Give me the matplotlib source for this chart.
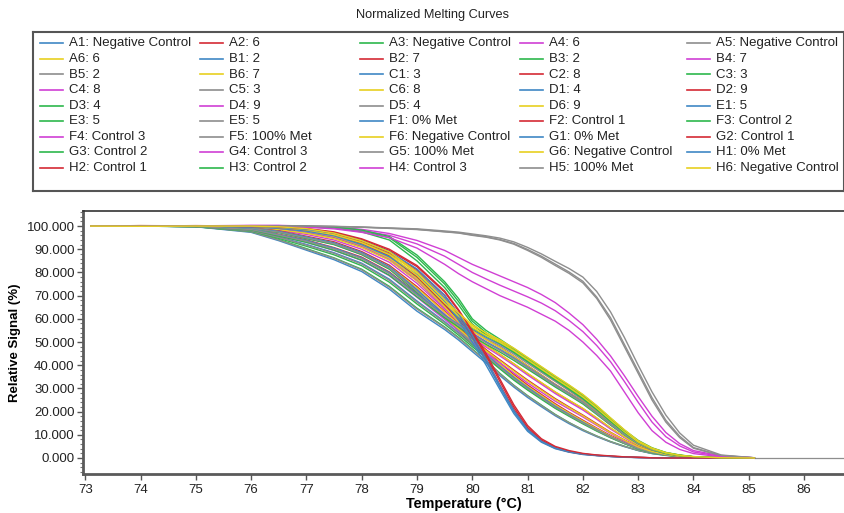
import matplotlib
matplotlib.use("Agg")
import matplotlib.pyplot as plt
from matplotlib.ticker import MultipleLocator, FormatStrFormatter

plt.rcParams['font.family'] = ['Liberation Sans', 'DejaVu Sans']

# Temperature grid (°C) shared by every well
temperature = [73.1, 74, 75, 76, 76.5, 77, 77.5, 78, 78.5, 79, 79.5, 79.75, 80, 80.25,
               80.5, 80.75, 81, 81.25, 81.5, 81.75, 82, 82.25, 82.5, 82.75, 83, 83.25,
               83.5, 83.75, 84, 84.5, 85.1]

wells = ["A1", "A2", "A3", "A4", "A5", "A6",
         "B1", "B2", "B3", "B4", "B5", "B6",
         "C1", "C2", "C3", "C4", "C5", "C6",
         "D1", "D2", "D3", "D4", "D5", "D6",
         "E1", "E3", "E5",
         "F1", "F2", "F3", "F4", "F5", "F6",
         "G1", "G2", "G3", "G4", "G5", "G6",
         "H1", "H2", "H3", "H4", "H5", "H6"]

sample_names = ["Negative Control", "6", "Negative Control", "6", "Negative Control", "6",
                "2", "7", "2", "7", "2", "7",
                "3", "8", "3", "8", "3", "8",
                "4", "9", "4", "9", "4", "9",
                "5", "5", "5",
                "0% Met", "Control 1", "Control 2", "Control 3", "100% Met", "Negative Control",
                "0% Met", "Control 1", "Control 2", "Control 3", "100% Met", "Negative Control",
                "0% Met", "Control 1", "Control 2", "Control 3", "100% Met", "Negative Control"]

# Normalized relative signal (%) per well
A1 = [100.1, 99.9, 100, 99.6, 98.9, 97.6, 95.4, 91.6, 86.4, 77.4, 65.6, 60.2, 55.4, 52, 49, 45.4, 41.4, 37.4, 33.4, 29.4, 25.4, 20.6, 15.6, 10.8, 6.5, 3.7, 2, 1.0, 0.4, 0.1, 0]
A2 = [100, 100.1, 100, 99.6, 98.7, 97.1, 94.9, 91.1, 85.7, 76.6, 65.3, 60, 55, 51.1, 47.7, 43.9, 39.8, 35.8, 31.8, 28.1, 24.4, 19.8, 14.9, 10.4, 6.4, 3.7, 2, 1.1, 0.5, 0.1, 0]
A3 = [100, 100, 100.1, 99.8, 99.2, 98.1, 96, 92.4, 87.3, 78.2, 66.4, 61, 56, 52.6, 49.6, 46, 42, 38, 34, 30, 26, 21.2, 16, 11.1, 6.8, 3.9, 2.1, 1.1, 0.5, 0.1, 0]
A4 = [100, 100, 99.9, 99.3, 98.2, 96.4, 94, 90, 84.4, 75.3, 64.2, 58.9, 54, 50.1, 46.7, 42.9, 38.8, 34.8, 30.9, 27.3, 23.6, 19.1, 14.3, 10, 6.1, 3.5, 1.9, 0.9, 0.4, 0.1, 0]
A5 = [99.9, 100, 100, 99.4, 98.6, 97.2, 94.8, 90.9, 85.5, 76.5, 64.8, 59.6, 54.8, 51.4, 48.4, 44.8, 40.8, 36.9, 33, 29, 25, 20.3, 15.3, 10.6, 6.3, 3.6, 2, 1.0, 0.4, 0.1, 0]
A6 = [100, 100, 100, 99.5, 98.5, 96.9, 94.6, 90.8, 85.3, 76.3, 65, 59.8, 54.8, 51, 47.6, 43.8, 39.7, 35.7, 31.6, 27.9, 24.2, 19.6, 14.8, 10.3, 6.3, 3.6, 2, 1.1, 0.5, 0.1, 0]
B1 = [100, 100, 99.7, 97.3, 93.7, 89.6, 85.5, 80.4, 72.8, 63.3, 55.4, 50.9, 45.9, 40.9, 35.5, 30.6, 26.1, 22.1, 18.2, 14.8, 11.8, 9.2, 6.9, 4.9, 3.2, 1.9, 1.1, 0.6, 0.3, 0.1, 0]
B2 = [100, 100, 100, 99.2, 97.9, 95.6, 93.2, 89, 83.1, 73.9, 63.3, 58.1, 53, 48.6, 44.7, 40.6, 36.4, 32.4, 28.4, 24.8, 21.3, 17.2, 12.9, 9, 5.6, 3.2, 1.8, 0.9, 0.4, 0.1, 0]
B3 = [100, 100, 99.8, 97.6, 94.2, 90.3, 86.3, 81.4, 74, 64.6, 56.5, 52, 47, 42, 36.5, 31.4, 26.9, 22.8, 18.8, 15.3, 12.2, 9.5, 7.1, 5.1, 3.3, 2, 1.2, 0.7, 0.3, 0.1, 0]
B4 = [100, 99.9, 99.9, 98.9, 97.3, 94.7, 92.1, 87.7, 81.6, 72.4, 62.1, 57, 52.1, 47.8, 44, 40, 35.8, 31.8, 27.8, 24.2, 20.7, 16.7, 12.5, 8.8, 5.4, 3.1, 1.7, 0.9, 0.4, 0.1, 0]
B5 = [100, 100, 99.8, 97.5, 94, 90, 86.1, 81.1, 73.6, 64.2, 56.2, 51.7, 46.7, 41.7, 36.2, 31.2, 26.7, 22.6, 18.6, 15.2, 12.1, 9.4, 7, 5, 3.3, 2, 1.2, 0.7, 0.3, 0.1, 0]
B6 = [100, 100, 99.9, 99.1, 97.6, 95.2, 92.7, 88.4, 82.5, 73.3, 62.9, 57.8, 52.8, 48.5, 44.7, 40.6, 36.5, 32.5, 28.5, 24.9, 21.4, 17.3, 13, 9.1, 5.6, 3.2, 1.8, 0.9, 0.4, 0.1, 0]
C1 = [100, 100, 99.8, 98.2, 95.3, 92.1, 88.5, 84, 77.1, 67.7, 58.8, 54.1, 49.1, 44.3, 39.3, 34.5, 30.1, 26.1, 22.1, 18.6, 15.3, 12.1, 9.1, 6.4, 4.1, 2.5, 1.4, 0.7, 0.3, 0.1, 0]
C2 = [100, 100.2, 100.1, 99.9, 99.4, 98.3, 96.2, 92.5, 87.1, 78.2, 66.2, 59.6, 52.6, 46.5, 41, 36, 31.5, 27.4, 23.4, 19.7, 16.3, 12.9, 9.7, 7, 4.4, 2.7, 1.5, 0.8, 0.4, 0.1, 0]
C3 = [100, 100, 99.7, 97.8, 94.7, 91.3, 87.6, 82.9, 75.8, 66.4, 57.7, 53, 48, 43.3, 38.4, 33.6, 29.3, 25.3, 21.4, 18, 14.7, 11.6, 8.7, 6.2, 3.9, 2.3, 1.3, 0.7, 0.3, 0.1, 0]
C4 = [100, 100, 100, 99.7, 99, 97.7, 95.4, 91.5, 85.9, 76.8, 64.8, 58.4, 51.4, 45.5, 40.1, 35.1, 30.6, 26.6, 22.7, 19.2, 15.8, 12.5, 9.3, 6.7, 4.2, 2.5, 1.4, 0.7, 0.3, 0.1, 0]
C5 = [100, 100, 99.8, 98, 95.1, 91.8, 88.2, 83.6, 76.6, 67.2, 58.4, 53.7, 48.7, 44, 39, 34.2, 29.9, 25.9, 21.9, 18.4, 15.1, 11.9, 9, 6.3, 4, 2.4, 1.4, 0.7, 0.3, 0.1, 0]
C6 = [100, 100, 100, 99.8, 99.1, 97.9, 95.6, 91.8, 86.2, 77.2, 65.2, 58.8, 51.8, 45.9, 40.4, 35.4, 30.9, 26.9, 22.9, 19.3, 15.9, 12.6, 9.4, 6.7, 4.2, 2.5, 1.4, 0.7, 0.3, 0.1, 0]
D1 = [100, 100, 99.9, 99.1, 97.7, 95.3, 92.8, 88.6, 82.5, 72.6, 61.6, 56, 50, 44.7, 39.6, 34.8, 30.4, 26.3, 22.3, 18.8, 15.4, 12.2, 9.1, 6.5, 4.1, 2.4, 1.4, 0.7, 0.3, 0.1, 0]
D2 = [100, 100, 100, 98.8, 96.5, 94, 90.7, 86.6, 80.2, 70.9, 61.2, 56.2, 51.2, 46.7, 42.3, 37.9, 33.6, 29.6, 25.6, 22, 18.5, 14.8, 11.1, 7.8, 4.9, 2.9, 1.6, 0.8, 0.4, 0.1, 0]
D3 = [100, 100, 99.8, 98.8, 97.2, 94.6, 92, 87.7, 81.4, 71.4, 60.4, 55, 49, 43.7, 38.8, 34, 29.6, 25.7, 21.7, 18.3, 15, 11.9, 8.9, 6.3, 4, 2.3, 1.3, 0.7, 0.3, 0.1, 0]
D4 = [100, 100, 99.8, 98.3, 95.7, 93, 89.5, 85.2, 78.6, 69.3, 59.8, 54.9, 49.9, 45.4, 41, 36.7, 32.4, 28.4, 24.5, 21.1, 17.7, 14.1, 10.6, 7.4, 4.7, 2.7, 1.5, 0.8, 0.3, 0.1, 0]
D5 = [100, 100, 99.9, 99, 97.4, 94.9, 92.4, 88.1, 81.9, 71.9, 60.9, 55.4, 49.4, 44.1, 39.1, 34.3, 29.9, 25.9, 21.9, 18.5, 15.1, 12, 9, 6.4, 4.1, 2.4, 1.4, 0.7, 0.3, 0.1, 0]
D6 = [100, 100, 99.9, 98.6, 96.2, 93.6, 90.3, 86.1, 79.7, 70.4, 60.8, 55.8, 50.8, 46.3, 41.9, 37.5, 33.2, 29.2, 25.2, 21.7, 18.2, 14.5, 10.9, 7.7, 4.8, 2.8, 1.6, 0.8, 0.4, 0.1, 0]
E1 = [100, 100, 99.9, 98.7, 96.3, 93.8, 90.5, 86.3, 79.9, 70.6, 61.6, 57.6, 53.6, 50.1, 46.8, 43.2, 39.3, 35.4, 31.5, 27.8, 24, 19.4, 14.7, 10.2, 6.3, 3.6, 2, 1.1, 0.5, 0.1, 0]
E3 = [100, 100, 99.8, 98.3, 95.7, 93, 89.6, 85.3, 78.8, 69.5, 60.5, 56.5, 52.5, 49, 45.7, 42.1, 38.3, 34.5, 30.6, 27, 23.3, 18.8, 14.2, 9.9, 6.1, 3.5, 1.9, 1.0, 0.5, 0.1, 0]
E5 = [100, 100, 99.9, 98.5, 96.1, 93.5, 90.1, 86, 79.5, 70.2, 61.2, 57.2, 53.2, 49.7, 46.4, 42.8, 39, 35.1, 31.2, 27.5, 23.8, 19.2, 14.5, 10.1, 6.2, 3.6, 2, 1.1, 0.5, 0.1, 0]
F1 = [100, 100, 100, 99.8, 99.3, 98.3, 96.5, 93, 88, 80.5, 69, 61, 51.5, 41.5, 30.5, 20, 12, 7, 4.2, 2.6, 1.6, 1.1, 0.7, 0.4, 0.2, 0.1, 0, 0, 0, 0, 0]
F2 = [100, 100, 100.2, 100, 99.6, 98.8, 97.2, 94.2, 89.5, 82.5, 71.5, 63.5, 54, 44, 33, 22, 13.2, 7.8, 4.6, 2.9, 1.8, 1.2, 0.8, 0.5, 0.3, 0.1, 0, 0, 0, 0, 0]
F3 = [100, 100, 100, 100, 100, 99.8, 99.5, 98, 95, 86.5, 75, 67.5, 59, 54, 50.5, 46.5, 42.5, 38.5, 34.5, 30.6, 26.5, 21.6, 16.5, 11.5, 7.2, 4.2, 2.3, 1.2, 0.5, 0.1, 0]
F4 = [100, 100, 100, 100.2, 100.3, 100, 99.6, 98.6, 96.8, 93.8, 89.5, 86.5, 83.5, 81, 78.5, 76, 73.5, 70.5, 67, 62.5, 57.5, 51.2, 44, 35.5, 26.5, 18, 11, 6.2, 3.2, 0.9, 0.1]
F5 = [100, 100, 100, 100, 100, 100, 99.8, 99.5, 99, 98.5, 97.5, 97, 96, 95.2, 94, 92.2, 89.5, 86.5, 83, 79.6, 75.5, 68.8, 59.5, 48, 36.5, 25, 15.5, 8.8, 4.2, 1, 0.1]
F6 = [100, 100.2, 100, 100, 99.6, 98.7, 96.8, 93.4, 88.5, 79.6, 67.6, 62, 57, 53.5, 50.5, 47, 43, 39, 35, 31, 27, 22.2, 17, 12, 7.3, 4.2, 2.3, 1.2, 0.5, 0.1, 0]
G1 = [100, 100, 100.1, 99.6, 99, 97.8, 95.8, 92, 86.8, 79, 67.5, 59.5, 50, 40, 29.5, 19.2, 11.5, 6.8, 4, 2.5, 1.5, 1.0, 0.6, 0.3, 0.2, 0.1, 0, 0, 0, 0, 0]
G2 = [100, 100, 100, 99.8, 99.4, 98.4, 96.8, 93.5, 88.6, 81.2, 70, 62, 52.5, 42.5, 31.5, 21, 12.6, 7.4, 4.4, 2.7, 1.7, 1.1, 0.7, 0.4, 0.2, 0.1, 0, 0, 0, 0, 0]
G3 = [100, 100, 100, 100, 99.9, 99.6, 99.2, 97.5, 94, 85, 73.5, 66, 57.8, 53, 49.5, 45.6, 41.6, 37.6, 33.6, 29.7, 25.6, 20.9, 15.8, 11, 6.8, 4, 2.1, 1.1, 0.5, 0.1, 0]
G4 = [100, 100, 100.1, 100.3, 100.2, 99.8, 99.3, 98, 96, 92.3, 87, 83.5, 80, 77.2, 74.5, 72, 69.5, 66.8, 63.5, 59.3, 54.5, 48.5, 41.5, 33, 24, 15.5, 9.2, 5.2, 2.6, 0.7, 0.1]
G5 = [100, 100, 100, 100, 100, 100, 99.9, 99.6, 99.2, 98.8, 97.9, 97.4, 96.6, 95.8, 94.8, 93.2, 90.8, 88, 84.8, 81.7, 78, 71.8, 63, 52, 40, 28.5, 18.5, 10.8, 5.5, 1.3, 0.1]
G6 = [100, 100, 100, 99.9, 99.4, 98.4, 96.3, 92.8, 87.7, 78.7, 66.8, 61.3, 56.3, 52.8, 49.8, 46.3, 42.3, 38.3, 34.3, 30.4, 26.3, 21.5, 16.4, 11.4, 6.9, 4, 2.2, 1.1, 0.5, 0.1, 0]
H1 = [100, 99.9, 100, 99.9, 99.5, 98.6, 97, 93.8, 89, 81.5, 70.2, 62.2, 52.8, 42.5, 31.2, 20.5, 12.3, 7.2, 4.3, 2.7, 1.7, 1.1, 0.7, 0.4, 0.2, 0.1, 0, 0, 0, 0, 0]
H2 = [100, 100.1, 100, 100.1, 99.7, 99, 97.5, 94.5, 90, 83, 72, 64, 54.8, 45, 34, 23, 14, 8.3, 5, 3.2, 2, 1.3, 0.9, 0.5, 0.3, 0.1, 0, 0, 0, 0, 0]
H3 = [100, 100, 100.1, 100, 100, 99.8, 99.6, 98.3, 95.5, 87.5, 76, 68.8, 60, 55, 51.2, 47.2, 43.2, 39.2, 35.2, 31.3, 27.2, 22.4, 17.2, 12, 7.6, 4.4, 2.4, 1.3, 0.6, 0.1, 0]
H4 = [100, 100, 100, 100.1, 100, 99.5, 98.8, 97.3, 95, 90.5, 83.5, 79.5, 76, 73, 70, 67.5, 65, 62, 59, 55, 50, 44.2, 37.5, 28.5, 19.5, 11.8, 6.8, 3.7, 1.9, 0.5, 0.1]
H5 = [100, 100, 100, 100, 100, 100, 99.8, 99.5, 99.1, 98.6, 97.6, 97.1, 96.2, 95.4, 94.2, 92.5, 89.9, 87, 83.6, 80.2, 76.2, 69.4, 60.5, 49, 37.5, 26, 16.3, 9.4, 4.5, 1.1, 0.1]
H6 = [100, 99.9, 100, 100, 99.7, 98.9, 97, 93.7, 88.9, 80.2, 68.2, 62.6, 57.4, 53.9, 50.9, 47.4, 43.4, 39.4, 35.4, 31.5, 27.4, 22.6, 17.3, 12.2, 7.4, 4.3, 2.3, 1.2, 0.6, 0.1, 0]

signals = [A1, A2, A3, A4, A5, A6, B1, B2, B3, B4, B5, B6,
           C1, C2, C3, C4, C5, C6, D1, D2, D3, D4, D5, D6,
           E1, E3, E5, F1, F2, F3, F4, F5, F6,
           G1, G2, G3, G4, G5, G6, H1, H2, H3, H4, H5, H6]

# Line colour follows the plate column number
column_colors = {"1": "#3f88c5", "2": "#d42a35", "3": "#2db84d",
                 "4": "#d03fd4", "5": "#8e8e8e", "6": "#e8d020"}

W, H = 845, 513
fig = plt.figure(figsize=(W / 100, H / 100), dpi=100)

# ---- main plot ----
ax = fig.add_axes([83 / W, 1 - 474 / H, (W - 83) / W, (474 - 211) / H])
for well, sig in zip(wells, signals):
    ax.plot(temperature, sig, color=column_colors[well[1]], lw=1.0,
            solid_joinstyle="round", zorder=2)

ax.set_xlim(72.96, 86.74)
ax.set_ylim(-6.9, 106.5)
# flat baseline after the last reading
ax.hlines(0, temperature[-1], ax.get_xlim()[1], color="#8e8e8e", lw=0.9, zorder=1)

ax.xaxis.set_major_locator(MultipleLocator(1))
ax.yaxis.set_major_locator(MultipleLocator(10))
ax.yaxis.set_minor_locator(MultipleLocator(2))
ax.yaxis.set_major_formatter(FormatStrFormatter("%.3f"))
ax.set_yticks([v for v in range(0, 101, 10)])
ax.tick_params(axis="both", which="major", direction="out", length=4, width=1,
               color="#555555", labelsize=9.5, labelcolor="#222222", pad=2)
ax.tick_params(axis="y", which="minor", direction="out", length=2, width=0.8, color="#777777")
ax.tick_params(axis="x", pad=3)

for side in ("left", "bottom"):
    ax.spines[side].set_linewidth(2)
    ax.spines[side].set_color("#5a5a5a")
ax.spines["top"].set_linewidth(1.2)
ax.spines["top"].set_color("#333333")
ax.spines["right"].set_visible(False)

ax.set_xlabel("Temperature (°C)", fontsize=10.4, fontweight="bold", labelpad=1)
ax.set_ylabel("Relative Signal (%)", fontsize=9.5, fontweight="bold", labelpad=4)

fig.text(433 / W, 1 - 15 / H, "Normalized Melting Curves", ha="center", va="center",
         fontsize=9.2, color="#222222")

# ---- legend panel ----
lax = fig.add_axes([33 / W, 1 - 191 / H, (844 - 33) / W, (191 - 32) / H])
lax.set_xlim(0, 811)
lax.set_ylim(159, 0)
lax.set_xticks([])
lax.set_yticks([])
for s in lax.spines.values():
    s.set_color("#555555")
    s.set_linewidth(1.5)

col_x = [7, 167, 327, 487, 654]
row_y0, row_step = 11.3, 15.6
for i, (well, name) in enumerate(zip(wells, sample_names)):
    r, c = divmod(i, 5)
    x0 = col_x[c]
    y = row_y0 + r * row_step
    lax.plot([x0, x0 + 23], [y, y], color=column_colors[well[1]], lw=1.2)
    lax.text(x0 + 29, y, f"{well}: {name}", va="center", ha="left",
             fontsize=9.5, color="#222222")

fig.savefig("out.png", dpi=100)
